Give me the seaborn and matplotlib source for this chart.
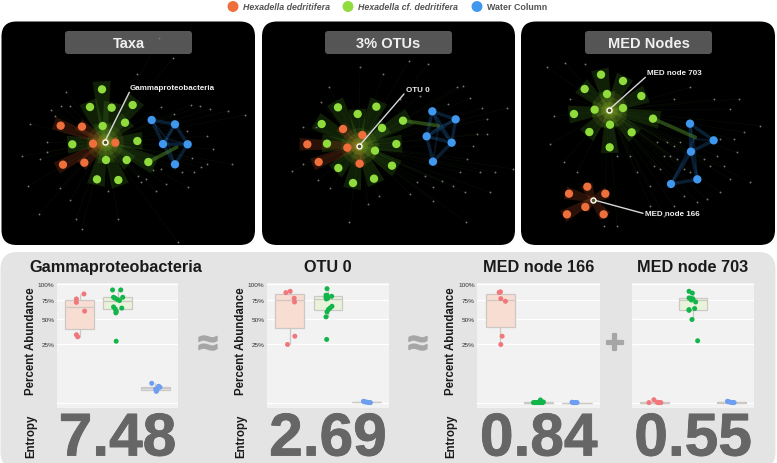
import numpy as np
import pandas as pd
import matplotlib
matplotlib.use("Agg")
import matplotlib.pyplot as plt
import matplotlib.patheffects as pe
from matplotlib.patches import FancyBboxPatch
import seaborn as sns

sns.set_theme(style="white")
plt.rcParams['font.family'] = ['Liberation Sans', 'DejaVu Sans']

W, H = 777, 464
CATS = ["HD", "HC", "WC"]
NODE_PAL = {"HD": "#ee6f3c", "HC": "#8fdc3c", "WC": "#3f97ee"}
PT_PAL = {"HD": "#f0787c", "HC": "#12b54a", "WC": "#6d9ef0"}
BOX_PAL = {"HD": "#f8ddd3", "HC": "#e8f3da", "WC": "#dce6f5"}

# --- abundance samples: percent value, jitter offset
p1_hd = [84.6, 77, 72, 60, 33, 31]
p1_hd_j = [13, -10, -10, 15, -10, -6]
p1_hc = [91, 91, 79.5, 79.5, 78, 76, 74.6, 65.6, 64, 62.8, 59.8, 57.7, 27]
p1_hc_j = [-15, 10, -12, 16, -7, 0, 6, -12, 13, -7, -4, -5, -4]
p1_wc = [2.66, 1.9, 1.7, 1.3, 1.1, 0.9]
p1_wc_j = [-11, 10, 14, 1, 5, 3]

p2_hd = [86.7, 88.8, 78, 72.6, 31.6, 24.2]
p2_hd_j = [-12, 1, 13, 14, 15, -7]
p2_hc = [93, 82.6, 82.6, 81, 79.5, 78, 77, 66.5, 64, 62, 59, 52.7, 28.6]
p2_hc_j = [-3, -6, -3, 11, -6, -1, -5, 12, 6, 1, -3, -6, -4]
p2_wc = [0.012, 0.008, 0.002, 0.001, 0.0, 0.0]
p2_wc_j = [-8, -6, -2, 3, 8, 13]

p3_hd = [87, 88, 77.5, 73.6, 31.6, 24.2]
p3_hd_j = [-4, 0, 1, 15, 5, 1]
p3_hc = [0.0, 0.0, 0.0, 0.0, 0.001, 0.0, 0.0, 0.001, 0.002, 0.0, 0.001, 0.0, 0.05]
p3_hc_j = [-16, -12, -8, -4, 0, 4, 8, 12, 14, 10, 6, 2, 5]
p3_wc = [0.001, 0.0, 0.0, 0.0, 0.0, 0.0]
p3_wc_j = [-15, -12, -9, -6, -3, 0]

p4_hd = [0.0, 0.06, 0.001, 0.0, 0.0, 0.0]
p4_hd_j = [-18, -3, 7, 10, 15, 18]
p4_hc = [88.8, 86, 78.5, 78, 77.5, 77, 75.5, 72.6, 63.4, 62, 61, 49.5, 27.4]
p4_hc_j = [-12, -2, -12, -8, -5, 0, -5, 8, 5, -12, -12, -3, 14]
p4_wc = [0.012, 0.006, 0.002, 0.0, 0.0, 0.0]
p4_wc_j = [-11, -9, -4, 2, 6, 9]

tick_values = [0, 25, 50, 75, 100]
tick_labels = ["", "25%", "50%", "75%", "100%"]

box_titles = ["Gammaproteobacteria", "OTU 0", "MED node 166", "MED node 703"]
entropy = ["7.48", "2.69", "0.84", "0.55"]
net_titles = ["Taxa", "3% OTUs", "MED Nodes"]
legend_labels = ["Hexadella dedritifera", "Hexadella cf. dedritifera", "Water Column"]

# --- network node coordinates
n1_hc = [(306,271),(270,324),(335,326),(398,318),(308,381),(375,371),(217,436),(412,426),(318,483),(380,483),(445,489),(291,541),(355,543)]
n1_hd = [(182,380),(246,383),(279,434),(346,431),(189,497),(253,491)]
n1_wc = [(455,363),(525,376),(489,435),(563,436),(525,496)]
n1_hub = [(314,429)]
n1_dots = [(518,178),(478,118),(410,225),(197,278),(183,321),(209,320),(153,333),(165,350),(90,375),(140,430),(140,460),(65,472),(85,560),(180,566),(211,604),(118,644),(228,660),(245,690),(355,660),(325,575),(533,730),(415,530),(438,540),(468,577),(497,555),(565,565),(582,520),(603,505),(622,495),(695,495),(735,348),(683,335),(630,330),(600,320),(572,318),(523,345),(484,325),(560,395),(620,412),(640,450),(575,478),(545,520),(482,510),(424,548),(460,512),(120,480)]

n2_hc = [(234,325),(349,323),(293,345),(185,375),(429,365),(366,387),(201,434),(409,435),(345,455),(396,500),(235,507),(342,539),(279,552)]
n2_hd = [(249,390),(307,408),(142,436),(262,446),(176,489),(299,494)]
n2_wc = [(517,337),(587,361),(500,412),(575,431),(519,488)]
n2_hub = [(298,440)]
n2_dots = [(300,203),(368,225),(447,185),(505,195),(207,265),(183,310),(168,385),(130,385),(97,515),(128,495),(175,542),(210,568),(325,615),(268,668),(358,590),(617,668),(690,580),(705,520),(760,510),(740,328),(680,360),(665,328),(630,298),(590,265),(610,262),(565,315),(652,405),(680,405),(640,440),(620,480),(600,520),(580,560),(520,605),(520,565),(450,585),(495,530),(545,545),(470,550),(615,580),(660,520),(420,300),(480,290)]

n3_hc = [(252,227),(318,246),(203,270),(270,285),(373,291),(233,332),(318,327),(171,345),(408,359),(279,377),(217,399),(344,400),(278,445)]
n3_hd = [(211,563),(156,584),(265,584),(205,624),(150,646),(260,646)]
n3_wc = [(519,374),(590,424),(522,458),(541,541),(462,555)]
n3_hub = [(275,333),(227,602)]
n3_dots = [(90,205),(145,192),(205,195),(160,300),(110,352),(100,435),(140,490),(180,520),(300,470),(360,520),(400,560),(450,430),(470,440),(490,430),(440,470),(460,470),(480,480),(430,510),(410,500),(500,510),(520,520),(560,480),(580,500),(600,470),(620,500),(640,540),(610,580),(570,600),(540,610),(500,590),(470,620),(440,650),(400,620),(660,460),(700,550),(730,380),(665,300),(640,330),(590,300),(520,265),(470,300),(610,420),(650,420),(680,400),(300,680),(260,680),(340,470),(420,430)]

fig = plt.figure(figsize=(W / 100, H / 100), dpi=100, facecolor="white")


def axpx(x0, y0, x1, y1, **kw):
    return fig.add_axes([x0 / W, 1 - y1 / H, (x1 - x0) / W, (y1 - y0) / H], **kw)


bg = axpx(0, 0, W, H)
bg.set_xlim(0, W)
bg.set_ylim(H, 0)
bg.axis("off")


def rbox(ax, x0, y0, x1, y1, r, color, z=1):
    ax.add_patch(FancyBboxPatch((x0, y0), x1 - x0, y1 - y0,
                                boxstyle=f"round,pad=0,rounding_size={r}",
                                fc=color, ec="none", zorder=z))


# network panels and title plates
for (x0, x1), (tx0, tx1), t in zip([(1.5, 255), (262, 515), (521, 775)],
                                   [(65, 192), (325, 452), (585, 712)], net_titles):
    rbox(bg, x0, 22.5, x1, 246, 15, "black")
    rbox(bg, tx0, 32, tx1, 55, 3, "#555555", 2)
    bg.text((tx0 + tx1) / 2, 44, t, color="#f0f0f0", fontsize=10.5, fontweight="bold",
            ha="center", va="center", zorder=3)
rbox(bg, 0.5, 253, 775.5, 470, 17, "#e4e4e4")

# legend
leg = pd.DataFrame({"x": [233, 348, 477], "y": [7.5, 7.5, 7.5], "g": CATS})
sns.scatterplot(data=leg, x="x", y="y", hue="g", palette=NODE_PAL, s=62, linewidth=0,
                legend=False, ax=bg, zorder=3)
bg.set_xlim(0, W)
bg.set_ylim(H, 0)
bg.set_xlabel("")
bg.set_ylabel("")
for x, lab, st in zip([243, 358, 487], legend_labels, ["italic", "italic", "normal"]):
    bg.text(x, 8, lab, fontsize=6.4, fontweight="bold", style=st, color="#555555",
            ha="left", va="center", zorder=3)

# operators
for x, s, fs, sw in [(208, "≈", 25, 1.3), (418, "≈", 25, 1.3), (614.5, "+", 23, 1.6)]:
    bg.text(x, 346, s, fontsize=fs, fontweight="bold", color="#a6a6a6", ha="center", va="center", zorder=3,
            path_effects=[pe.withStroke(linewidth=sw, foreground="#a6a6a6")])


def wedge(ax, a, b, w, color, alpha):
    a, b = np.array(a, float), np.array(b, float)
    d = b - a
    n = np.array([-d[1], d[0]]) / (np.hypot(*d) + 1e-9)
    pts = np.array([a + n * 8, b + d * 0.15 + n * w, b + d * 0.15 - n * w, a - n * 8])
    ax.fill(pts[:, 0], pts[:, 1], color=color, alpha=alpha, lw=0, zorder=2)


def network(x0, hc, hd, wc, hubs, dots, hc_hub, hd_hub, wc_center, link_from, link_to):
    ax = axpx(x0, 0, x0 + 260, 250)
    ax.patch.set_alpha(0)
    d = pd.DataFrame(dots, columns=["x", "y"])
    for px, py in dots:
        ax.plot([hc_hub[0], px], [hc_hub[1], py], color="#4c8a2c", lw=0.3, alpha=0.14, zorder=1)
    sns.scatterplot(data=d, x="x", y="y", s=1.8, color="#777777", linewidth=0, legend=False,
                    ax=ax, zorder=1)
    for p in hc:
        wedge(ax, hc_hub, p, 27, "#3d7a1c", 0.27)
    for p in hd:
        wedge(ax, hd_hub, p, 19, "#8a3a18", 0.30)
    for i, a in enumerate(wc):
        for b in wc[i + 1:]:
            if np.hypot(a[0] - b[0], a[1] - b[1]) < 115:
                ax.plot([a[0], b[0]], [a[1], b[1]], color="#1a4f85", lw=2.4, alpha=0.38, zorder=2,
                        solid_capstyle="round")
        ax.plot([a[0], wc_center[0]], [a[1], wc_center[1]], color="#1a4f85", lw=1.2, alpha=0.3, zorder=2)
    ax.plot([link_from[0], link_to[0]], [link_from[1], link_to[1]], color="#4f8a2a", lw=2.6, alpha=0.5, zorder=2)
    for s, al in [(700, 0.10), (380, 0.14), (150, 0.18), (50, 0.22)]:
        ax.scatter([hc_hub[0]], [hc_hub[1]], s=s, color="#a8bb2a", alpha=al, linewidths=0, zorder=3)
    rows = [(x, y, "HC") for x, y in hc] + [(x, y, "HD") for x, y in hd] + [(x, y, "WC") for x, y in wc]
    nd = pd.DataFrame(rows, columns=["x", "y", "g"])
    sns.scatterplot(data=nd, x="x", y="y", hue="g", palette=NODE_PAL, s=36, linewidth=0, legend=False,
                    ax=ax, zorder=4)
    return ax


def finish(ax, hubs, leaders):
    for (hub, end, lab, tx, ty) in leaders:
        ax.plot([hub[0], end[0]], [hub[1], end[1]], color="#d8d8d8", lw=1.0, zorder=5)
        ax.text(tx, ty, lab, color="#eeeeee", fontsize=5.8, fontweight="bold", ha="left",
                va="center", zorder=6)
    hx, hy = zip(*hubs)
    ax.scatter(hx, hy, s=13, facecolor="#555522", edgecolor="white", linewidths=1.0, zorder=7)
    ax.set_xlim(0, 780)
    ax.set_ylim(750, 0)
    ax.axis("off")


a1 = network(0, n1_hc, n1_hd, n1_wc, n1_hub, n1_dots, n1_hub[0], n1_hub[0], (500, 420), (445, 489), (530, 445))
finish(a1, n1_hub, [(n1_hub[0], (388, 280), "Gammaproteobacteria", 390, 266)])
a2 = network(260, n2_hc, n2_hd, n2_wc, n2_hub, n2_dots, n2_hub[0], n2_hub[0], (535, 385), (429, 365), (535, 380))
finish(a2, n2_hub, [(n2_hub[0], (432, 285), "OTU 0", 437, 272)])
a3 = network(517, n3_hc, n3_hd, n3_wc, n3_hub, n3_dots, n3_hub[0], n3_hub[1], (530, 420), (408, 359), (535, 415))
finish(a3, n3_hub, [(n3_hub[0], (385, 235), "MED node 703", 390, 221),
                    (n3_hub[1], (378, 643), "MED node 166", 385, 644)])


# --- box plots on a square-root scale
def fwd(v):
    v = np.asarray(v, float)
    return np.sign(v) * np.sqrt(np.abs(v))


def inv(v):
    v = np.asarray(v, float)
    return np.sign(v) * v ** 2


JIT = 115.0
panels = [
    ((57, 178), (p1_hd, p1_hd_j), (p1_hc, p1_hc_j), (p1_wc, p1_wc_j), True),
    ((267, 389), (p2_hd, p2_hd_j), (p2_hc, p2_hc_j), (p2_wc, p2_wc_j), True),
    ((477.5, 600), (p3_hd, p3_hd_j), (p3_hc, p3_hc_j), (p3_wc, p3_wc_j), True),
    ((632, 754), (p4_hd, p4_hd_j), (p4_hc, p4_hc_j), (p4_wc, p4_wc_j), False),
]
for i, ((x0, x1), hd, hc, wc, lab) in enumerate(panels):
    ax = axpx(x0, 283.5, x1, 409, facecolor="#f2f2f2")
    frames = []
    for k, (c, (vals, j)) in enumerate(zip(CATS, [hd, hc, wc])):
        frames.append(pd.DataFrame({"cat": c, "val": vals, "pos": k + np.array(j) / JIT}))
    df = pd.concat(frames, ignore_index=True)
    ax.set_yscale("function", functions=(fwd, inv))
    ax.set_axisbelow(True)
    ax.grid(True, color="white", lw=0.9)
    sns.boxplot(data=df, x="cat", y="val", hue="cat", order=CATS, hue_order=CATS, palette=BOX_PAL,
                width=0.76, fliersize=0, showcaps=False, linecolor="#cdc8c4", linewidth=0.9,
                saturation=1, legend=False, ax=ax, zorder=2)
    sns.scatterplot(data=df, x="pos", y="val", hue="cat", palette=PT_PAL, s=13, linewidth=0,
                    legend=False, ax=ax, zorder=4)
    ax.set_xlim(-0.6, 2.6)
    ax.set_ylim(-0.21, 103.4)
    ax.set_yticks(tick_values)
    ax.set_yticks([], minor=True)
    ax.set_xlabel("")
    ax.set_ylabel("")
    ax.tick_params(axis="x", length=0, labelbottom=False)
    if lab:
        ax.set_yticklabels(tick_labels, fontsize=4.6, color="#333333")
        ax.tick_params(axis="y", length=1.2, width=0.4, pad=0.6, color="#888888")
    else:
        ax.tick_params(axis="y", length=0, labelleft=False)
    for s in ax.spines.values():
        s.set_visible(False)

    cx = (x0 + x1) / 2
    bg.text(cx - 2 if i == 0 else cx, 267.5, box_titles[i], fontsize=11.7, fontweight="bold", color="#1a1a1a",
            ha="center", va="center", zorder=3)
    bg.text(cx, 456.5, entropy[i], fontsize=43.5, fontweight="bold", color="#666666",
            ha="center", va="baseline", zorder=3,
            path_effects=[pe.withStroke(linewidth=0.6, foreground="#666666")])
    if lab:
        bg.text(x0 - 26, 341, "Percent Abundance", fontsize=8.3, fontweight="bold", color="#1a1a1a",
                rotation=90, ha="center", va="center", zorder=3)
        bg.text(x0 - 26, 436, "Entropy", fontsize=8.3, fontweight="bold", color="#1a1a1a",
                rotation=90, ha="center", va="center", zorder=3)

fig.savefig("out.png", dpi=100)
